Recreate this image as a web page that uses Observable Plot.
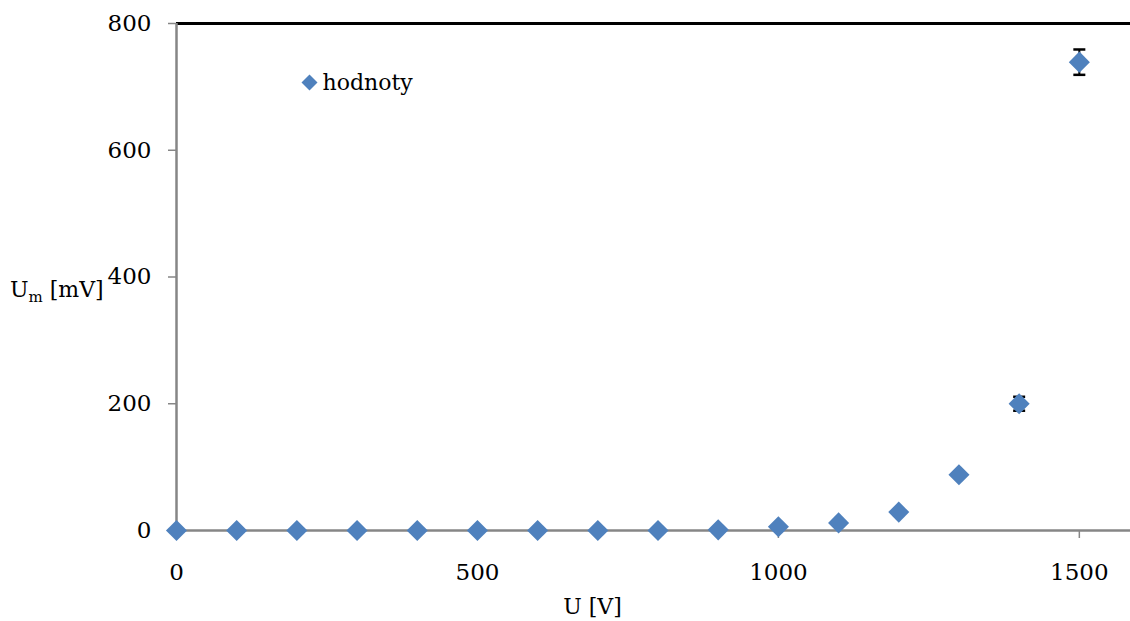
<!DOCTYPE html>
<html><head><meta charset="utf-8">
<script src="https://cdn.jsdelivr.net/npm/d3@7"></script>
<script src="https://cdn.jsdelivr.net/npm/@observablehq/plot@0.6"></script>
<style>body{margin:0;background:#fff}</style>
</head><body><div id="chart"></div>
<script>
const U = [0,100,200,300,400,500,600,700,800,900,1000,1100,1200,1300,1400,1500];
const Um = [0,0,0,0,0,0,0,0,0,1,6,12,29,88,200,739];
const errUm = [0,0,0,0,0,0,0,0,0,0,0,0,0,0,11,20];
const xTicks = [0,500,1000,1500];
const yTicks = [0,200,400,600,800];
const seriesName = "hodnoty";

const data = U.map((u,i)=>({u, v:Um[i], e:errUm[i]}));
const errData = data.filter(d=>d.e>0);
const blue = "#4F81BD";
const capSymbol = {draw(ctx, size){ ctx.moveTo(-6,0); ctx.lineTo(6,0); }};

const chart = Plot.plot({
  width:1130, height:621,
  marginLeft:176, marginRight:0, marginTop:23, marginBottom:91,
  style:{fontFamily:"DejaVu Serif", fontSize:"22px", color:"#000", background:"#fff", overflow:"visible"},
  x:{domain:[0,1585]},
  y:{domain:[0,800]},
  marks:[
    Plot.axisX({ticks:xTicks, tickSize:8, tickPadding:25, stroke:"#868686", strokeWidth:1.5, fill:"#000", tickFormat:d3.format("d"), label:null, fontSize:23}),
    Plot.axisY({ticks:yTicks, tickSize:8, tickPadding:17, stroke:"#868686", strokeWidth:1.5, fill:"#000", tickFormat:d3.format("d"), label:null, fontSize:23}),
    Plot.ruleY([800], {stroke:"#000", strokeWidth:3}),
    Plot.ruleX([0], {stroke:"#868686", strokeWidth:2.5}),
    Plot.ruleY([0], {stroke:"#868686", strokeWidth:2.5}),
    Plot.ruleX(errData, {x:"u", y1:d=>d.v-d.e, y2:d=>d.v+d.e, stroke:"#000", strokeWidth:2}),
    Plot.dot(errData, {x:"u", y:d=>d.v+d.e, symbol:capSymbol, stroke:"#000", strokeWidth:2.5, fill:"none"}),
    Plot.dot(errData, {x:"u", y:d=>d.v-d.e, symbol:capSymbol, stroke:"#000", strokeWidth:2.5, fill:"none"}),
    Plot.dot(data, {x:"u", y:"v", symbol:"diamond2", r:9.5, fill:blue, stroke:null}),
    Plot.dot([seriesName], {frameAnchor:"top-left", dx:133, dy:59, symbol:"diamond2", r:7.2, fill:blue, stroke:null}),
    Plot.text([seriesName], {frameAnchor:"top-left", dx:146, dy:59, text:d=>d, textAnchor:"start", lineAnchor:"middle", fill:"#000", fontSize:22}),
    Plot.text(["U [V]"], {frameAnchor:"bottom", dx:-61, dy:83, text:d=>d, lineAnchor:"bottom", fill:"#000", fontSize:22})
  ]
});
const svg = d3.select(chart);
const yl = svg.append("text").attr("x",10).attr("y",297).attr("fill","#000")
  .attr("text-anchor","start")
  .attr("font-family","DejaVu Serif").attr("font-size",22);
yl.append("tspan").text("U");
yl.append("tspan").attr("font-size",15).attr("dy",5).text("m");
yl.append("tspan").attr("dy",-5).text(" [mV]");
document.getElementById("chart").appendChild(chart);
</script>
</body></html>
